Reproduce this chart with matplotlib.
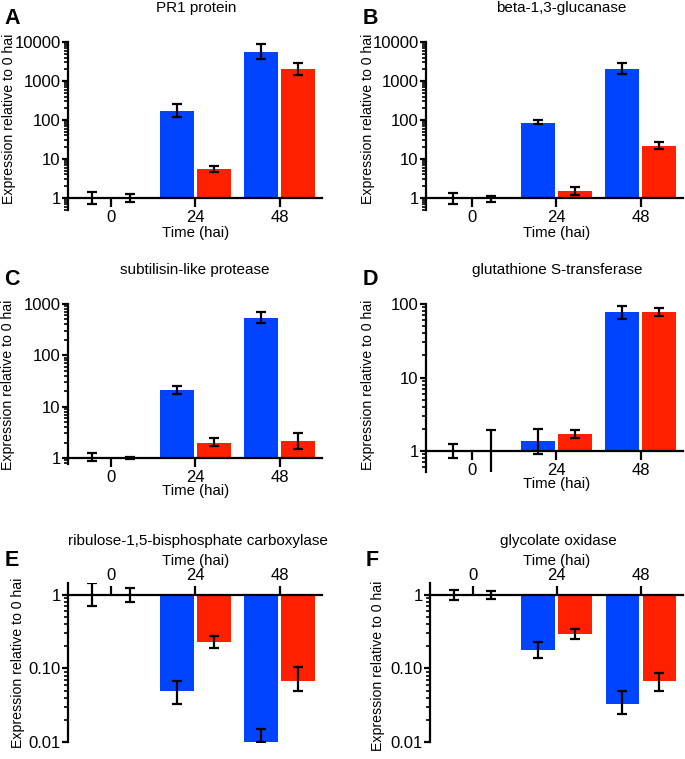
import numpy as np
import matplotlib
matplotlib.use("Agg")
import matplotlib.pyplot as plt
from matplotlib.ticker import LogLocator, NullFormatter, FixedLocator, FixedFormatter

plt.rcParams['font.family'] = ['Liberation Sans', 'DejaVu Sans']

# data (expression relative to 0 hai)
titles = ["PR1 protein", "beta-1,3-glucanase", "subtilisin-like protease",
          "glutathione S-transferase", "ribulose-1,5-bisphosphate carboxylase",
          "glycolate oxidase"]
letters = ["A", "B", "C", "D", "E", "F"]
time_labels = ["0", "24", "48"]

blue_mean = [[1, 170, 5500], [1, 85, 2030], [1, 21, 543],
             [1, 1.36, 77], [1, 0.050, 0.010], [1, 0.18, 0.033]]
blue_lo = [[0.70, 122, 3650], [0.70, 78, 1490], [0.87, 17.6, 423],
           [0.80, 0.92, 62], [0.71, 0.033, 0.010], [0.855, 0.14, 0.024]]
blue_hi = [[1.40, 250, 9100], [1.34, 100, 2950], [1.23, 25.7, 690],
           [1.26, 2.02, 95], [1.44, 0.068, 0.015], [1.17, 0.23, 0.050]]

red_mean = [[1, 5.4, 1990], [1, 1.49, 21.5], [1, 1.99, 2.15],
            [1, 1.73, 77.6], [1, 0.23, 0.068], [1, 0.29, 0.068]]
red_lo = [[0.80, 4.6, 1420], [0.80, 1.19, 18], [0.95, 1.71, 1.48],
          [0.45, 1.50, 69], [0.81, 0.19, 0.050], [0.88, 0.25, 0.050]]
red_hi = [[1.24, 6.7, 2840], [1.13, 1.88, 27], [1.06, 2.42, 3.1],
          [1.96, 1.95, 87], [1.26, 0.28, 0.104], [1.13, 0.34, 0.088]]

ytick_vals = [[1, 10, 100, 1000, 10000], [1, 10, 100, 1000, 10000],
              [1, 10, 100, 1000], [1, 10, 100], [0.01, 0.1, 1], [0.01, 0.1, 1]]
ytick_text = [["1", "10", "100", "1000", "10000"], ["1", "10", "100", "1000", "10000"],
              ["1", "10", "100", "1000"], ["1", "10", "100"],
              ["0.01", "0.10", "1"], ["0.01", "0.10", "1"]]

BLUE = "#0044ff"
RED = "#ff2000"

W, H = 685, 759
fig = plt.figure(figsize=(W / 100, H / 100), dpi=100)

def rect(l, t, r, b):
    return [l / W, 1 - b / H, (r - l) / W, (b - t) / H]

def ftext(x, y, s, **kw):
    fig.text(x / W, 1 - y / H, s, ha="center", va="center", **kw)

# layout in pixels: left, top, right, bottom
boxes = [(68, 42, 322, 209.7), (426, 42, 683, 209.7),
         (68, 304, 322, 464.4), (426, 304, 683, 471.9),
         (68, 583.1, 322, 742), (430, 583.1, 683, 742)]
ylims = [(0.5, 10000), (0.5, 10000), (0.75, 1000), (0.52, 100),
         (0.01, 1.45), (0.01, 1.45)]
xleft = [-0.509, -0.544, -0.509, -0.544, -0.509, -0.505]
title_pos = [(196, 8), (561, 8), (195, 270), (557, 270), (198, 541), (558, 541)]
letter_pos = [(12, 19), (370, 19), (12, 280), (370, 280), (12, 560), (372, 560)]
ylab_pos = [(9, 119), (368, 119), (8, 385), (368, 385), (18, 663), (378, 666)]
xlab_pos = [(196, 233), (557, 233), (196, 491), (557, 484), (196, 561), (557, 561)]

x = np.arange(3)
off, bw = 0.22, 0.40

for i in range(6):
    ax = fig.add_axes(rect(*boxes[i]))
    ax.set_yscale("log")
    bm, rm = np.array(blue_mean[i]), np.array(red_mean[i])
    ax.bar(x - off, bm - 1, bottom=1, width=bw, color=BLUE, edgecolor="none", zorder=2)
    ax.bar(x + off, rm - 1, bottom=1, width=bw, color=RED, edgecolor="none", zorder=2)
    for xs, m, lo, hi in [(x - off, bm, blue_lo[i], blue_hi[i]),
                          (x + off, rm, red_lo[i], red_hi[i])]:
        err = [m - np.array(lo), np.array(hi) - m]
        ax.errorbar(xs, m, yerr=err, fmt="none", ecolor="black",
                    elinewidth=1.6, capsize=3.8, capthick=1.6, zorder=3)

    ax.set_xlim(xleft[i], 2.5)
    ax.set_ylim(*ylims[i])
    ax.yaxis.set_major_locator(FixedLocator(ytick_vals[i]))
    ax.yaxis.set_major_formatter(FixedFormatter(ytick_text[i]))
    ax.yaxis.set_minor_locator(LogLocator(base=10, subs=np.arange(2, 10), numticks=20))
    ax.yaxis.set_minor_formatter(NullFormatter())
    ax.set_xticks(x)
    ax.set_xticklabels(time_labels)

    ax.spines["right"].set_visible(False)
    ax.spines["left"].set_linewidth(1.6)
    if i < 4:
        ax.spines["top"].set_visible(False)
        ax.spines["bottom"].set_position(("data", 1))
        ax.spines["bottom"].set_linewidth(1.6)
        ax.xaxis.set_ticks_position("bottom")
    else:
        ax.spines["bottom"].set_visible(False)
        ax.spines["top"].set_position(("data", 1))
        ax.spines["top"].set_linewidth(1.6)
        ax.xaxis.set_ticks_position("top")
    ax.tick_params(axis="x", direction="out", length=6.5, width=1.6, pad=2, labelsize=12)
    ax.tick_params(axis="y", which="major", direction="out", length=4.5, width=1.6,
                   pad=0.8, labelsize=12)
    ax.tick_params(axis="y", which="minor", direction="out", length=2.8, width=1.2)
    ax.patch.set_visible(False)

    ftext(*title_pos[i], titles[i], fontsize=11)
    ftext(*letter_pos[i], letters[i], fontsize=15.5, fontweight="bold")
    ftext(*ylab_pos[i], "Expression relative to 0 hai", fontsize=10.2, rotation=90)
    ftext(*xlab_pos[i], "Time (hai)", fontsize=10.8)

fig.savefig("out.png", dpi=100)
